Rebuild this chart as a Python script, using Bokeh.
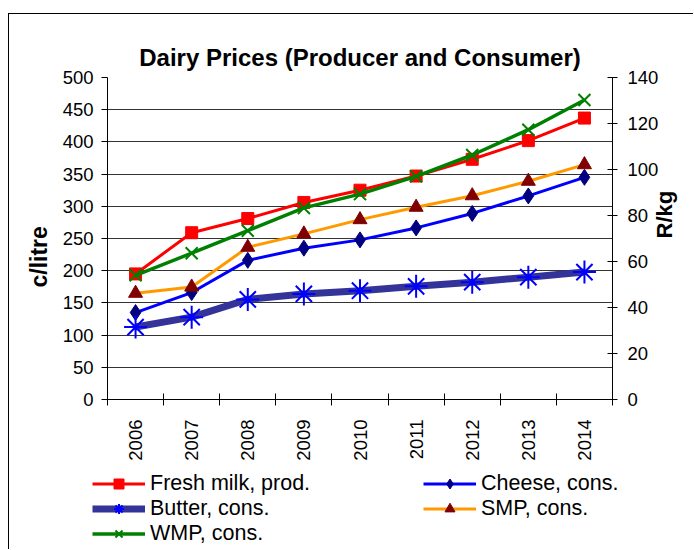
import math
from bokeh.plotting import figure
from bokeh.layouts import column, row
from bokeh.models import Range1d, LinearAxis, FixedTicker, Legend, LegendItem, Title
from bokeh.embed import file_html
from bokeh.resources import INLINE

# ---- data ----
years = ["2006", "2007", "2008", "2009", "2010", "2011", "2012", "2013", "2014"]
fresh_milk = [195, 259, 281, 306, 325, 347, 373, 402, 437]          # c/litre (left axis)
cheese = [37.8, 46.5, 60.5, 65.8, 69.4, 74.6, 80.9, 88.5, 96.6]      # R/kg (right axis)
butter = [31.5, 35.8, 43.5, 45.9, 47.3, 49.2, 51.0, 53.2, 55.4]      # R/kg
smp = [46.2, 48.9, 66.2, 72.0, 78.2, 83.6, 88.6, 94.9, 102.1]        # R/kg
wmp = [54.0, 63.6, 73.4, 83.3, 89.3, 97.0, 106.3, 117.3, 130.2]      # R/kg
left_ticks = [0, 50, 100, 150, 200, 250, 300, 350, 400, 450, 500]
right_ticks = [0, 20, 40, 60, 80, 100, 120, 140]

FONT = "Liberation Sans"
n = len(years)
x = [i + 0.5 for i in range(n)]

# series styles
S_FRESH = dict(line=dict(line_color="#FF0000", line_width=3),
               mark=dict(marker="square", size=12, fill_color="#FF0000", line_color="#FF0000"))
S_CHEESE = dict(line=dict(line_color="#0000FF", line_width=3),
                mark=dict(marker="diamond", size=16, fill_color="#000080", line_color="#000080"))
S_BUTTER = dict(line=dict(line_color="#333399", line_width=7),
                mark=dict(marker="asterisk", size=23, line_color="#0000FF", line_width=2))
S_SMP = dict(line=dict(line_color="#FF9900", line_width=3),
             mark=dict(marker="triangle", size=14, fill_color="#800000", line_color="#800000"))
S_WMP = dict(line=dict(line_color="#008000", line_width=3.5),
             mark=dict(marker="x", size=17, line_color="#008000", line_width=2))

p = figure(width=684, height=455, x_range=Range1d(0, n), y_range=Range1d(0, 500),
           output_backend="svg", toolbar_location=None,
           min_border_left=98, min_border_right=81, min_border_top=63, min_border_bottom=70,
           title="Dairy Prices (Producer and Consumer)")
p.extra_y_ranges = {"rkg": Range1d(0, 140)}
p.outline_line_color = None
p.background_fill_color = "white"
p.border_fill_color = "white"

p.title.text_font = FONT
p.title.text_font_size = "24px"
p.title.text_font_style = "bold"
p.title.text_color = "black"
p.title.align = "center"
p.title.standoff = 13

p.xgrid.visible = False
p.ygrid.ticker = FixedTicker(ticks=left_ticks)
p.ygrid.grid_line_color = "#000000"
p.ygrid.grid_line_alpha = 0.8

# x axis
xa = p.xaxis[0]
xa.ticker = FixedTicker(ticks=x, minor_ticks=list(range(n + 1)))
xa.major_label_overrides = {xi: y for xi, y in zip(x, years)}
xa.major_tick_out = 0
xa.major_tick_in = 0
xa.minor_tick_out = 6
xa.minor_tick_in = 6
xa.minor_tick_line_color = "black"
xa.major_label_orientation = math.pi / 2
xa.major_label_standoff = 14
xa.major_label_text_font = FONT
xa.major_label_text_font_size = "18.5px"
xa.major_label_text_color = "black"
xa.axis_line_color = "black"

# left axis
ya = p.yaxis[0]
ya.ticker = FixedTicker(ticks=left_ticks)
ya.major_tick_out = 6
ya.major_tick_in = 0
ya.minor_tick_out = 0
ya.minor_tick_in = 0
ya.major_label_standoff = 8
ya.major_label_text_font = FONT
ya.major_label_text_font_size = "18.5px"
ya.major_label_text_color = "black"
ya.axis_line_color = "black"

p.add_layout(Title(text="c/litre", align="left", offset=112, text_font=FONT, text_color="black",
                   text_font_size="23px", text_font_style="bold", standoff=16), "left")

# right axis
ra = LinearAxis(y_range_name="rkg", ticker=FixedTicker(ticks=right_ticks), axis_label="R/kg")
ra.major_tick_out = 5
ra.major_tick_in = 5
ra.minor_tick_out = 0
ra.minor_tick_in = 0
ra.major_label_standoff = 10
ra.major_label_text_font = FONT
ra.major_label_text_font_size = "18.5px"
ra.major_label_text_color = "black"
ra.axis_line_color = "black"
ra.axis_label_text_font = FONT
ra.axis_label_text_font_size = "22px"
ra.axis_label_text_font_style = "bold"
ra.axis_label_text_color = "black"
ra.axis_label_standoff = 3
try:
    ra.axis_label_orientation = math.pi / 2
except Exception:
    pass
p.add_layout(ra, "right")

# series
p.line(x, fresh_milk, **S_FRESH["line"])
p.scatter(x, fresh_milk, **S_FRESH["mark"])
p.line(x, cheese, y_range_name="rkg", **S_CHEESE["line"])
p.scatter(x, cheese, y_range_name="rkg", **S_CHEESE["mark"])
p.line(x, butter, y_range_name="rkg", **S_BUTTER["line"])
p.scatter(x, butter, y_range_name="rkg", **S_BUTTER["mark"])
p.line(x, smp, y_range_name="rkg", **S_SMP["line"])
p.scatter(x, smp, y_range_name="rkg", **S_SMP["mark"])
p.line(x, wmp, y_range_name="rkg", **S_WMP["line"])
p.scatter(x, wmp, y_range_name="rkg", **S_WMP["mark"])

# legend strip (separate figure below the chart); its ranges keep the key glyphs out of view
q = figure(width=684, height=80, x_range=Range1d(-100, -99), y_range=Range1d(-100, -99),
           output_backend="svg", toolbar_location=None,
           x_axis_location=None, y_axis_location=None,
           min_border_left=0, min_border_right=0, min_border_top=0, min_border_bottom=0)
q.grid.visible = False
q.outline_line_color = None
q.background_fill_color = "white"
q.border_fill_color = "white"


def key(vals, style):
    lr = q.line(x, vals, **style["line"])
    mr = q.scatter(x, vals, **style["mark"])
    return [lr, mr]


common = dict(padding=0, spacing=0, glyph_width=53, glyph_height=25, label_height=25,
              label_standoff=5, label_text_font=FONT, label_text_font_size="21.5px",
              label_text_color="black", border_line_alpha=0, background_fill_alpha=0, margin=0)
leg1 = Legend(items=[LegendItem(label="Fresh milk, prod.", renderers=key(fresh_milk, S_FRESH)),
                     LegendItem(label="Butter, cons.", renderers=key(butter, S_BUTTER)),
                     LegendItem(label="WMP, cons.", renderers=key(wmp, S_WMP))],
              location=(83, 3), **common)
leg2 = Legend(items=[LegendItem(label="Cheese, cons.", renderers=key(cheese, S_CHEESE)),
                     LegendItem(label="SMP, cons.", renderers=key(smp, S_SMP))],
              location=(414, 28), **common)
q.add_layout(leg1, "center")
q.add_layout(leg2, "center")

layout = column(p, row(q), spacing=0)
layout.styles = {"margin-top": "13px", "margin-left": "8px",
                 "border-top": "1px solid black", "border-left": "1px solid black"}

open("out.html", "w").write(file_html(layout, INLINE))
